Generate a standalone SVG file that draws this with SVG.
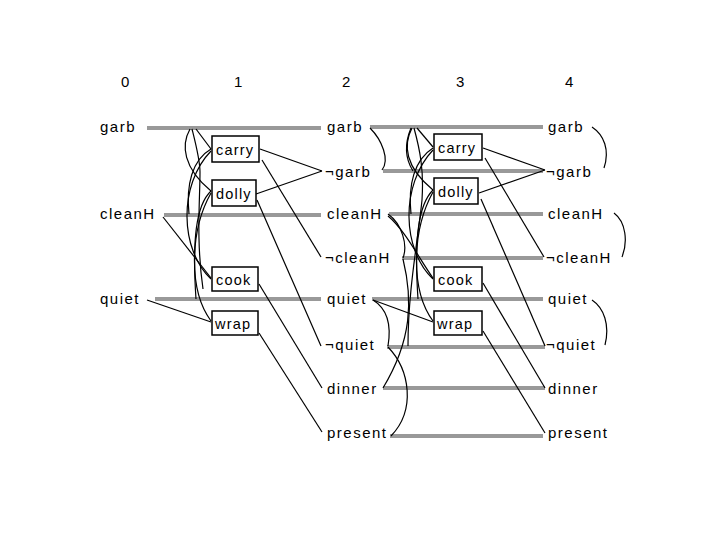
<svg xmlns="http://www.w3.org/2000/svg" width="720" height="540" viewBox="0 0 720 540">
<style>
text{font-family:"Liberation Sans",Arial,sans-serif;font-size:15px;letter-spacing:1.5px;fill:#000}
.hd{letter-spacing:0}
.bx{font-size:14.5px;letter-spacing:1.2px}
.noop{stroke:#999;stroke-width:4;fill:none}
.c{stroke:#000;stroke-width:1.2;fill:none}
.box{fill:#fff;stroke:#000;stroke-width:1.5}
</style>
<rect width="720" height="540" fill="#fff"/>
<g id="headers">
<text class="hd" x="121" y="87">0</text>
<text class="hd" x="234" y="87">1</text>
<text class="hd" x="342" y="87">2</text>
<text class="hd" x="456" y="87">3</text>
<text class="hd" x="565" y="87">4</text>
</g>
<g id="connectors">
<g id="noops">
<line class="noop" x1="147" y1="128" x2="321" y2="128"/>
<line class="noop" x1="164" y1="215" x2="321" y2="215"/>
<line class="noop" x1="155" y1="299" x2="321" y2="299"/>
<line class="noop" x1="370" y1="127" x2="543" y2="127"/>
<line class="noop" x1="383" y1="171" x2="543" y2="171"/>
<line class="noop" x1="389" y1="214" x2="543" y2="214"/>
<line class="noop" x1="402" y1="258" x2="543" y2="258"/>
<line class="noop" x1="372" y1="299" x2="543" y2="299"/>
<line class="noop" x1="387" y1="347" x2="545" y2="347"/>
<line class="noop" x1="383" y1="388" x2="545" y2="388"/>
<line class="noop" x1="390" y1="436" x2="543" y2="436"/>
</g>
<g id="level1">
<path class="c" d="M196,129 L211,149"/>
<path class="c" d="M190,129 C181,145 183,168 211,191"/>
<path class="c" d="M211,149 C192,160 186,185 189,214"/>
<path class="c" d="M211,151 C178,185 180,250 211,279"/>
<path class="c" d="M211,191 C196,205 192,240 196,299"/>
<path class="c" d="M211,193 C190,230 188,290 211,321"/>
<path class="c" d="M192,129 C196,145 200,160 200,172 C200,200 196,240 203,289"/>
<path class="c" d="M163,217 L211,278"/>
<path class="c" d="M147,300 L211,322"/>
<path class="c" d="M260,149 L322,171"/>
<path class="c" d="M256,194 L322,171"/>
<path class="c" d="M262,160 L321,257"/>
<path class="c" d="M257,200 L321,346"/>
<path class="c" d="M259,284 L322,388"/>
<path class="c" d="M259,333 L322,432"/>
</g>
<g id="level2mutex">
<path class="c" d="M370,128 C382,140 390,160 382,170"/>
<path class="c" d="M388,214 C402,224 408,245 403,258"/>
<path class="c" d="M373,300 C386,308 392,322 388,346"/>
<path class="c" d="M403,259 C413,300 412,340 383,388"/>
<path class="c" d="M388,347 C410,370 416,410 391,436"/>
</g>
<g id="level3">
<path class="c" d="M417,128 L433,147"/>
<path class="c" d="M412,128 C403,145 405,167 433,190"/>
<path class="c" d="M411,128 C404,145 406,160 413,171"/>
<path class="c" d="M433,148 C414,160 408,185 411,214"/>
<path class="c" d="M433,150 C400,185 402,250 433,279"/>
<path class="c" d="M433,190 C418,205 414,240 418,299"/>
<path class="c" d="M433,192 C412,230 410,290 433,321"/>
<path class="c" d="M414,128 C420,150 424,170 422,200 C418,240 408,290 408,346"/>
<path class="c" d="M388,216 C405,230 420,260 433,278"/>
<path class="c" d="M373,300 L433,322"/>
<path class="c" d="M483,148 L545,170"/>
<path class="c" d="M479,193 L545,170"/>
<path class="c" d="M485,158 L544,257"/>
<path class="c" d="M481,199 L545,346"/>
<path class="c" d="M483,283 L545,388"/>
<path class="c" d="M483,331 L545,433"/>
</g>
<g id="level4mutex">
<path class="c" d="M592,127 C604,135 610,150 604,168"/>
<path class="c" d="M614,213 C626,222 628,242 622,257"/>
<path class="c" d="M592,300 C604,308 610,325 605,345"/>
</g>
</g>
<g id="level0">
<text x="100" y="132">garb</text>
<text x="100" y="219">cleanH</text>
<text x="100" y="304">quiet</text>
</g>
<g id="level2">
<text x="327" y="132">garb</text>
<text x="325" y="177">¬garb</text>
<text x="327" y="219">cleanH</text>
<text x="325" y="263">¬cleanH</text>
<text x="327" y="304">quiet</text>
<text x="325" y="350">¬quiet</text>
<text x="327" y="394">dinner</text>
<text x="327" y="438">present</text>
</g>
<g id="level4">
<text x="548" y="132">garb</text>
<text x="546" y="177">¬garb</text>
<text x="548" y="219">cleanH</text>
<text x="546" y="263">¬cleanH</text>
<text x="548" y="304">quiet</text>
<text x="546" y="350">¬quiet</text>
<text x="548" y="394">dinner</text>
<text x="548" y="438">present</text>
</g>
<g id="carry1"><rect class="box" x="212" y="136" width="47" height="26"/><text class="bx" x="216" y="155">carry</text></g>
<g id="dolly1"><rect class="box" x="212" y="180" width="44" height="26"/><text class="bx" x="216" y="199">dolly</text></g>
<g id="cook1"><rect class="box" x="212" y="267" width="46" height="24"/><text class="bx" x="216" y="285">cook</text></g>
<g id="wrap1"><rect class="box" x="212" y="311" width="46" height="24"/><text class="bx" x="215" y="329">wrap</text></g>
<g id="carry3"><rect class="box" x="434" y="134" width="48" height="26"/><text class="bx" x="438" y="153">carry</text></g>
<g id="dolly3"><rect class="box" x="434" y="178" width="44" height="26"/><text class="bx" x="438" y="197">dolly</text></g>
<g id="cook3"><rect class="box" x="434" y="267" width="48" height="24"/><text class="bx" x="438" y="285">cook</text></g>
<g id="wrap3"><rect class="box" x="434" y="311" width="48" height="24"/><text class="bx" x="437" y="329">wrap</text></g>
</svg>
